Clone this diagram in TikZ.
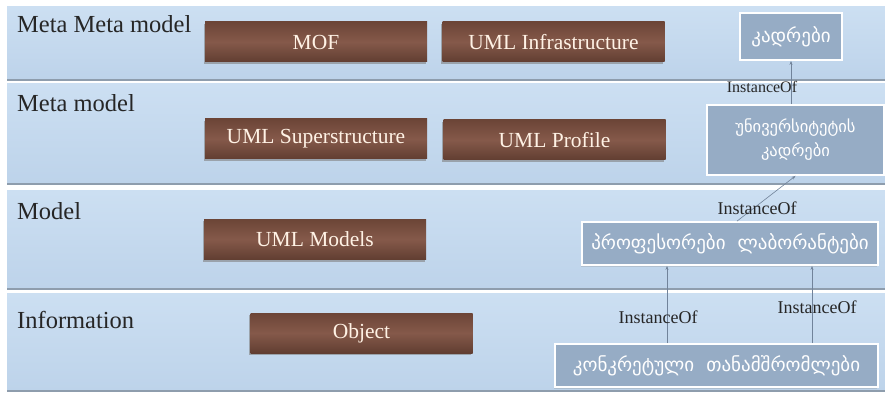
\documentclass[tikz,border=0pt]{standalone}
\usepackage{fontspec}
\setmainfont{Liberation Serif}
\newfontfamily\timesfont{Liberation Serif}
\newfontfamily\geofont{DejaVu Sans}
\usetikzlibrary{arrows.meta,shadows}

\definecolor{bandtop}{HTML}{CCDFF2}
\definecolor{bandbot}{HTML}{BDD3EA}
\definecolor{bandline}{HTML}{8E9DAD}
\definecolor{brownmid}{HTML}{85594A}
\definecolor{browndark}{HTML}{6C4537}
\definecolor{grayblue}{HTML}{96ACC5}
\definecolor{linkgray}{HTML}{71839A}

\tikzset{
  layername/.style={anchor=base west, inner sep=0pt, text=black!85,
    font=\timesfont\fontsize{24.5}{28}\selectfont},
  umlbox/.style={top color=browndark, bottom color=browndark!90!black,
    middle color=brownmid, text=white!90!orange, inner sep=0pt,
    minimum width=222pt, minimum height=40pt,
    font=\timesfont\fontsize{21.5}{24}\selectfont,
    drop shadow={shadow xshift=-1.5pt, shadow yshift=-2pt, opacity=.6}},
  geobox/.style={fill=grayblue, draw=white, line width=1.8pt, text=white,
    align=center, inner sep=2pt, font=\geofont\fontsize{19}{24}\selectfont,
    drop shadow={shadow xshift=-1pt, shadow yshift=-1.5pt, opacity=.25}},
  inst/.style={linkgray, line width=.6pt, -{Stealth[length=4pt,width=3pt]}},
  instname/.style={inner sep=0pt, text=black!85,
    font=\timesfont\fontsize{18}{20}\selectfont}
}

\begin{document}
\begin{tikzpicture}[x=1pt, y=1pt]
\fill[white] (0,0) rectangle (885,-395);
\useasboundingbox (0,0) rectangle (885,-395);

% the four layers
\foreach \ya/\yb in {7/80, 84/184, 191/289, 293/391} {
  \shade[top color=bandtop, bottom color=bandbot] (7,-\ya) rectangle (885,-\yb);
  \draw[bandline, line width=1.5pt] (7,-\yb) -- (885,-\yb);
}

\node[layername] (lmm)   at (17,-33)  {Meta Meta model};
\node[layername] (lmeta) at (17,-112) {Meta model};
\node[layername] (lmod)  at (17,-220) {Model};
\node[layername] (linfo) at (17,-328) {Information};

% OMG stack
\node[umlbox] (mof)    at (316,-42)    {MOF};
\node[umlbox] (infra)  at (553.5,-42)  {UML Infrastructure};
\node[umlbox] (super)  at (316,-139)   {UML Superstructure};
\node[umlbox] (prof)   at (554.5,-140) {UML Profile};
\node[umlbox] (models) at (315,-239.5) {UML Models};
\node[umlbox] (obj)    at (361.5,-333) {Object};

% example on the right
\node[geobox, minimum width=102pt, minimum height=47pt] (kadr) at (791,-36.5) {კადრები};
\node[geobox, minimum width=177pt, minimum height=70pt,
  font=\geofont\fontsize{16.5}{24}\selectfont] (univ) at (795.5,-140)
  {უნივერსიტეტის\\კადრები};
\node[geobox, minimum width=296pt, minimum height=43pt] (lab) at (730,-243.5)
  {პროფესორები\ \ ლაბორანტები};
\node[geobox, minimum width=323pt, minimum height=43pt] (emp) at (716.5,-365.5)
  {კონკრეტული\ \ თანამშრომლები};

\draw[inst] (univ.north -| kadr.south) -- (kadr.south);
\draw[inst] ([xshift=7]lab.north) -- (univ.south);
\draw[inst] (emp.north -| 667,0) -- (lab.south -| 667,0);
\draw[inst] (emp.north -| 812,0) -- (lab.south -| 812,0);

\node[instname, font=\timesfont\fontsize{16}{18}\selectfont] (i1) at (762,-87) {InstanceOf};
\node[instname] (i2) at (757,-208) {InstanceOf};
\node[instname] (i3) at (658,-317) {InstanceOf};
\node[instname] (i4) at (817,-307) {InstanceOf};
\end{tikzpicture}
\end{document}
